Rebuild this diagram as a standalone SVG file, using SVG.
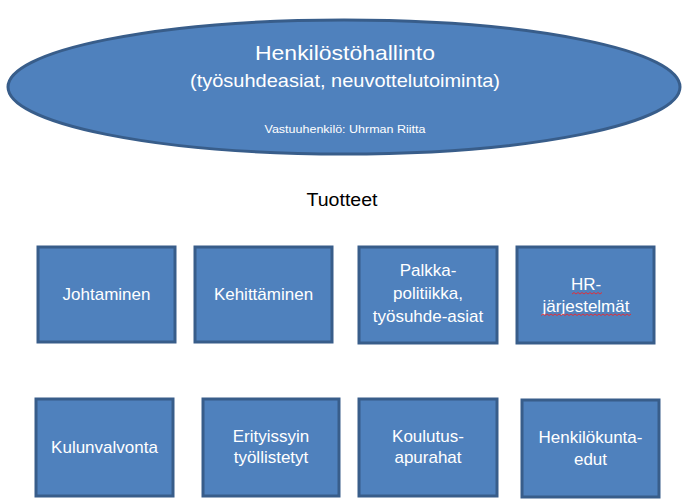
<svg xmlns="http://www.w3.org/2000/svg" width="688" height="501" viewBox="0 0 688 501">
<style>
.shape{fill:#4F81BD;stroke:#385D8A;stroke-width:3}
.t{font-family:"Liberation Sans",Arial,sans-serif;fill:#FFFFFF;text-anchor:middle}
.b{font-size:17px}
.sq{fill:none;stroke:#E0303A;stroke-width:1}
</style>
<rect width="688" height="501" fill="#FFFFFF"/>
<g id="main">
<ellipse class="shape" cx="344" cy="87" rx="336" ry="67"/>
<text class="t" x="345" y="60" font-size="21" textLength="180" lengthAdjust="spacingAndGlyphs">Henkilöstöhallinto</text>
<text class="t" x="345" y="87" font-size="19" textLength="310" lengthAdjust="spacingAndGlyphs">(työsuhdeasiat, neuvottelutoiminta)</text>
<text class="t" x="345" y="133" font-size="11" textLength="161" lengthAdjust="spacingAndGlyphs">Vastuuhenkilö: Uhrman Riitta</text>
</g>
<g id="tuotteet">
<text x="342" y="206" font-family="Liberation Sans, Arial, sans-serif" font-size="18" fill="#000000" text-anchor="middle" textLength="71" lengthAdjust="spacingAndGlyphs">Tuotteet</text>
</g>
<g id="connectors"></g>
<g id="johtaminen">
<rect class="shape" x="38" y="247" width="137" height="95"/>
<text class="t b" x="106.5" y="300">Johtaminen</text>
</g>
<g id="kehittaminen">
<rect class="shape" x="195" y="247" width="137" height="95"/>
<text class="t b" x="263.5" y="300">Kehittäminen</text>
</g>
<g id="palkka">
<rect class="shape" x="359" y="247" width="138" height="96"/>
<text class="t b" x="428" y="276">Palkka-</text>
<text class="t b" x="428" y="299">politiikka,</text>
<text class="t b" x="428" y="322">työsuhde-asiat</text>
</g>
<g id="hr">
<rect class="shape" x="517" y="247" width="137" height="96"/>
<text class="t b" x="586" y="290">HR-</text>
<text class="t b" x="586" y="312">järjestelmät</text>
<path class="sq" d="M572,294 l2,-1.5 l2,1.5 l2,-1.5 l2,1.5 l2,-1.5 l2,1.5 l2,-1.5 l2,1.5 l2,-1.5 l2,1.5 l2,-1.5 l2,1.5 l2,-1.5 l2,1.5 l2,-1.5"/>
<path class="sq" d="M541,315.5 l2,-1.5 l2,1.5 l2,-1.5 l2,1.5 l2,-1.5 l2,1.5 l2,-1.5 l2,1.5 l2,-1.5 l2,1.5 l2,-1.5 l2,1.5 l2,-1.5 l2,1.5 l2,-1.5 l2,1.5 l2,-1.5 l2,1.5 l2,-1.5 l2,1.5 l2,-1.5 l2,1.5 l2,-1.5 l2,1.5 l2,-1.5 l2,1.5 l2,-1.5 l2,1.5 l2,-1.5 l2,1.5 l2,-1.5 l2,1.5 l2,-1.5 l2,1.5 l2,-1.5 l2,1.5 l2,-1.5 l2,1.5 l2,-1.5 l2,1.5 l2,-1.5 l2,1.5 l2,-1.5 l2,1.5 l2,-1.5"/>
</g>
<g id="kulunvalvonta">
<rect class="shape" x="36" y="399" width="137" height="97"/>
<text class="t b" x="104.5" y="453">Kulunvalvonta</text>
</g>
<g id="erityissyin">
<rect class="shape" x="203" y="399" width="136" height="97"/>
<text class="t b" x="271" y="442">Erityissyin</text>
<text class="t b" x="271" y="463">työllistetyt</text>
</g>
<g id="koulutus">
<rect class="shape" x="359" y="399" width="138" height="97"/>
<text class="t b" x="428" y="442">Koulutus-</text>
<text class="t b" x="428" y="463">apurahat</text>
</g>
<g id="henkilokunta">
<rect class="shape" x="522" y="400" width="137" height="97"/>
<text class="t b" x="590.5" y="443">Henkilökunta-</text>
<text class="t b" x="590.5" y="465">edut</text>
</g>
</svg>
